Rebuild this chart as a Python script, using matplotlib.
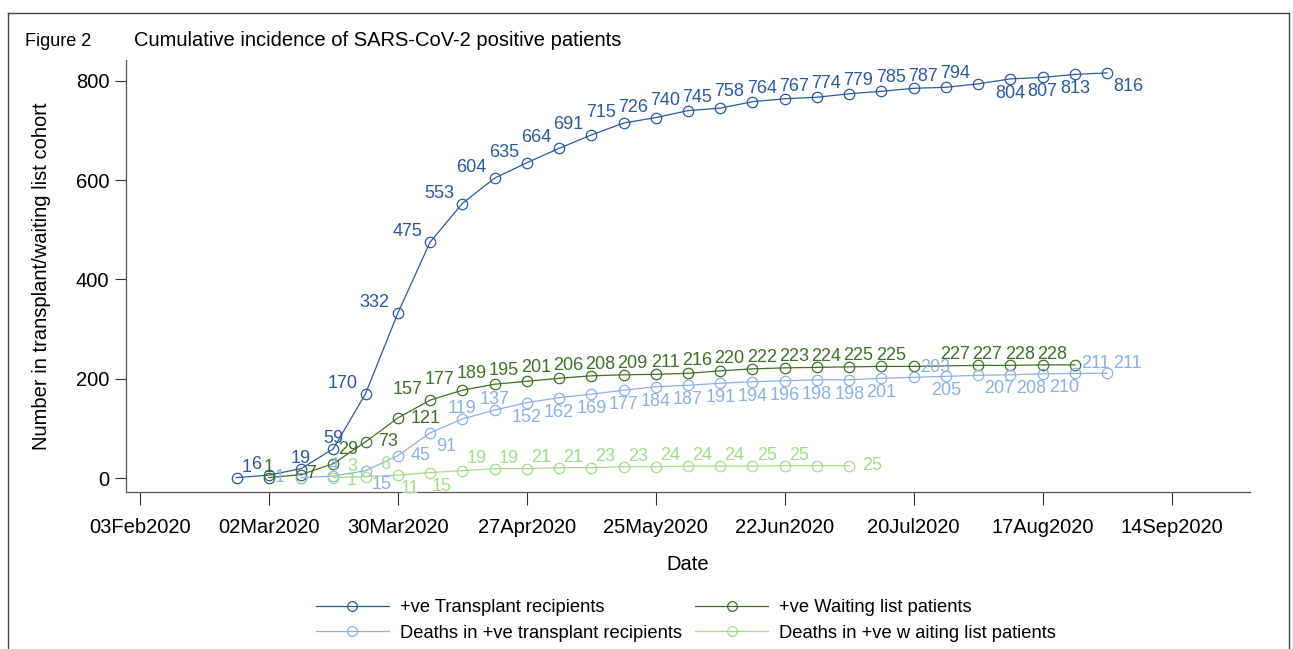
import matplotlib
matplotlib.use("Agg")
import matplotlib.pyplot as plt
import matplotlib.dates as mdates
from matplotlib.lines import Line2D
import pandas as pd

# weekly cumulative counts
tx_dates = pd.date_range("2020-02-24", "2020-08-31", freq="7D")
tx_pos = [1, 6, 19, 59, 170, 332, 475, 553, 604, 635, 664, 691, 715, 726, 740,
          745, 758, 764, 767, 774, 779, 785, 787, 794, 804, 807, 813, 816]

wl_dates = list(pd.date_range("2020-03-02", "2020-07-20", freq="7D")) + \
    list(pd.to_datetime(["2020-08-03", "2020-08-10", "2020-08-17", "2020-08-24"]))
wl_pos = [1, 7, 29, 73, 121, 157, 177, 189, 195, 201, 206, 208, 209, 211, 216,
          220, 222, 223, 224, 225, 225, 227, 227, 228, 228]

tx_death_dates = pd.date_range("2020-03-09", "2020-08-31", freq="7D")
tx_death = [1, 4, 15, 45, 91, 119, 137, 152, 162, 169, 177, 184, 187, 191, 194,
            196, 198, 198, 201, 203, 205, 207, 208, 210, 211, 211]

wl_death_dates = pd.date_range("2020-03-16", "2020-07-06", freq="7D")
wl_death = [1, 3, 6, 11, 15, 19, 19, 21, 21, 23, 23, 24, 24, 24, 25, 25, 25]

x_ticks = pd.date_range("2020-02-03", "2020-09-14", freq="28D")

# marker label clock positions (Stata-style)
tx_lab = ["1", "11", "12", "12"] + ["11"] * 20 + ["6", "6", "6", "4"]
wl_lab = ["12", "3s", "1h", "3", "3"] + ["11"] * 20
tx_death_lab = ["9", "12", "4", "3", "4", "12", "12"] + ["6"] * 12 + \
    ["2", "6", "4", "4", "4", "2", "2"]
wl_death_lab = ["3l", "11", "11", "7", "7"] + ["11"] * 11 + ["3"]

C_TX = "#2B5A9B"
C_WL = "#3F6F28"
C_TXD = "#8EB1E2"
C_WLD = "#A5DC8C"

CLOCK = {
    "12": ("center", "baseline", 0, 6),
    "11": ("right", "baseline", -8, 6),
    "1": ("left", "baseline", 5, 6),
    "1h": ("left", "baseline", 5, 10),
    "2": ("left", "baseline", 6, 5),
    "3": ("left", "center", 13, 0),
    "3s": ("left", "center", 5, 1),
    "3l": ("left", "center", 13, -3),
    "4": ("left", "top", 6, -5),
    "6": ("center", "top", 0, -6),
    "7": ("right", "top", -11, -7),
    "9": ("right", "center", -16, 0),
}

plt.rcParams.update({
    "font.family": ["Liberation Sans", "DejaVu Sans"],
})

fig = plt.figure(figsize=(12.93, 6.49), dpi=100)
ax = fig.add_axes([126 / 1293, 1 - 492 / 649, (1250 - 126) / 1293, (492 - 60) / 649])

series = [
    (tx_dates, tx_pos, tx_lab, C_TX, "+ve Transplant recipients"),
    (wl_dates, wl_pos, wl_lab, C_WL, "+ve Waiting list patients"),
    (tx_death_dates, tx_death, tx_death_lab, C_TXD, "Deaths in +ve transplant recipients"),
    (wl_death_dates, wl_death, wl_death_lab, C_WLD, "Deaths in +ve w aiting list patients"),
]

handles = {}
for dates, vals, labs, col, name in series:
    ln, = ax.plot(dates, vals, color=col, lw=0.9, marker="o", ms=7.5,
                  mfc="none", mec=col, mew=0.9, label=name)
    handles[name] = ln
    for d, v, pos in zip(dates, vals, labs):
        ha, va, dx, dy = CLOCK[pos]
        ax.annotate(str(v), (d, v), xytext=(dx, dy), textcoords="offset pixels",
                    ha=ha, va=va, color=col, fontsize=13)

ax.set_xlim(pd.Timestamp("2020-01-31"), pd.Timestamp("2020-10-01"))
ax.set_ylim(-28, 842)
ax.set_xticks(x_ticks)
ax.xaxis.set_major_formatter(mdates.DateFormatter("%d%b%Y"))
ax.set_yticks([0, 200, 400, 600, 800])
ax.tick_params(axis="x", length=9, width=0.8, labelsize=14.5, pad=10, color="#333333")
ax.tick_params(axis="y", length=8, width=0.8, labelsize=14.5, pad=4, color="#333333")
for s in ["top", "right"]:
    ax.spines[s].set_visible(False)
for s in ["left", "bottom"]:
    ax.spines[s].set_color("#555555")
    ax.spines[s].set_linewidth(0.9)

ax.set_xlabel("Date", fontsize=14.5, labelpad=13)
ax.set_ylabel("Number in transplant/waiting list cohort", fontsize=14.5, labelpad=18)

fig.text(25 / 1293, 1 - 41 / 649, "Figure 2", fontsize=13, va="center", ha="left")
fig.text(134 / 1293, 1 - 41 / 649, "Cumulative incidence of SARS-CoV-2 positive patients",
         fontsize=14.5, va="center", ha="left")

# outer frame
frame_kw = dict(color="#444444", lw=1.0, transform=fig.transFigure)
fig.add_artist(Line2D([8 / 1293, 8 / 1293], [0, 1 - 13 / 649], **frame_kw))
fig.add_artist(Line2D([8 / 1293, 1289 / 1293], [1 - 13 / 649, 1 - 13 / 649], **frame_kw))
fig.add_artist(Line2D([1289 / 1293, 1289 / 1293], [0, 1 - 13 / 649], **frame_kw))

order = ["+ve Transplant recipients", "Deaths in +ve transplant recipients",
         "+ve Waiting list patients", "Deaths in +ve w aiting list patients"]
leg_handles = [Line2D([0], [0], color=handles[n].get_color(), lw=0.9, marker="o", ms=7,
                      mfc="none", mew=0.9) for n in order]
fig.legend(leg_handles, order, ncol=2, loc="upper center",
           bbox_to_anchor=(686 / 1293, 1 - 583 / 649), frameon=False,
           fontsize=13.2, handlelength=4.0, columnspacing=0.7, labelspacing=0.45,
           handletextpad=0.6)

fig.savefig("out.png", dpi=100)
